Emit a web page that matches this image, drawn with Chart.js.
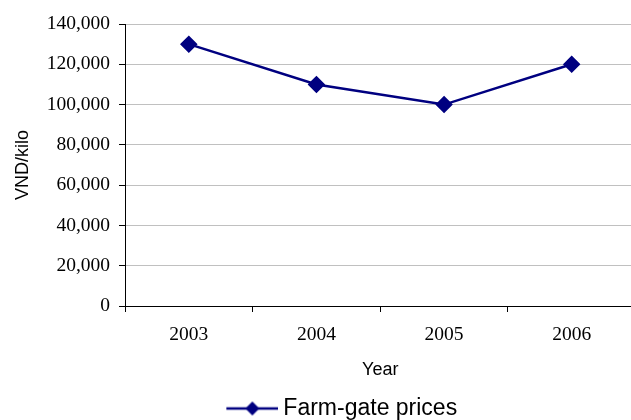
<!DOCTYPE html>
<html>
<head>
<meta charset="utf-8">
<script src="https://cdn.jsdelivr.net/npm/chart.js@4/dist/chart.umd.min.js"></script>
<style>
  html, body { margin: 0; padding: 0; background: #fff; overflow: hidden; }
  #wrap { width: 631px; height: 420px; overflow: hidden; }
</style>
</head>
<body>
<div id="wrap"><canvas id="priceChart" width="645" height="420"></canvas></div>
<script>
const years = ['2003', '2004', '2005', '2006'];
const farmGatePrices = [130000, 110000, 100000, 120000];
const seriesLabel = 'Farm-gate prices';
const lineColor = '#000080';

// line with a diamond in the middle, like the old office legend key.
// empty room on the left nudges the legend to the right like the original
const iconBox = 84;
function legendIcon() {
    const c = document.createElement('canvas');
    c.width = iconBox + 13;
    c.height = 16;
    const g = c.getContext('2d');
    const x0 = c.width - 52;
    g.strokeStyle = lineColor;
    g.lineWidth = 2.5;
    g.beginPath();
    g.moveTo(x0, 8);
    g.lineTo(x0 + 52, 8);
    g.stroke();
    g.fillStyle = lineColor;
    g.beginPath();
    g.moveTo(x0 + 26, 1);
    g.lineTo(x0 + 33, 8);
    g.lineTo(x0 + 26, 15);
    g.lineTo(x0 + 19, 8);
    g.closePath();
    g.fill();
    return c;
}

function initChart() {
    const ctx = document.getElementById('priceChart').getContext('2d');
    new Chart(ctx, {
        type: 'line',
        data: {
            labels: years,
            datasets: [{
                label: seriesLabel,
                data: farmGatePrices,
                borderColor: lineColor,
                backgroundColor: lineColor,
                borderWidth: 2.5,
                pointStyle: 'rectRot',
                pointRadius: 7,
                pointHoverRadius: 7,
                tension: 0
            }]
        },
        options: {
            responsive: false,
            animation: false,
            layout: { padding: { top: 24, left: 0, right: 0, bottom: -10 } },
            plugins: {
                tooltip: { enabled: false },
                legend: {
                    position: 'bottom',
                    labels: {
                        usePointStyle: true,
                        pointStyleWidth: iconBox,
                        color: '#000',
                        font: { family: 'Liberation Sans', size: 23 },
                        padding: 0,
                        generateLabels: chart => [{
                            text: seriesLabel,
                            pointStyle: legendIcon(),
                            fillStyle: lineColor,
                            strokeStyle: lineColor,
                            lineWidth: 0,
                            datasetIndex: 0
                        }]
                    }
                }
            },
            scales: {
                x: {
                    offset: true,
                    grid: {
                        offset: true,
                        drawOnChartArea: false,
                        drawTicks: true,
                        tickLength: 6,
                        tickColor: '#000'
                    },
                    border: { color: '#000', width: 1 },
                    ticks: {
                        color: '#000',
                        padding: 11,
                        font: { family: 'Liberation Serif', size: 19.5 }
                    },
                    title: {
                        display: true,
                        text: 'Year',
                        color: '#000',
                        padding: { top: 2, bottom: 16 },
                        font: { family: 'Liberation Sans', size: 18 }
                    }
                },
                y: {
                    min: 0,
                    max: 140000,
                    afterFit: scale => { scale.width = 125; },
                    grid: {
                        color: '#c0c0c0',
                        tickLength: 6,
                        tickColor: '#000'
                    },
                    border: { color: '#000', width: 1 },
                    ticks: {
                        stepSize: 20000,
                        color: '#000',
                        padding: 9,
                        font: { family: 'Liberation Serif', size: 19.5 },
                        callback: v => v.toLocaleString('en-US')
                    },
                    title: {
                        display: true,
                        text: 'VND/kilo',
                        color: '#000',
                        padding: { top: 12, bottom: 0 },
                        font: { family: 'Liberation Sans', size: 18 }
                    }
                }
            }
        }
    });
}

document.addEventListener('DOMContentLoaded', initChart);
</script>
</body>
</html>
